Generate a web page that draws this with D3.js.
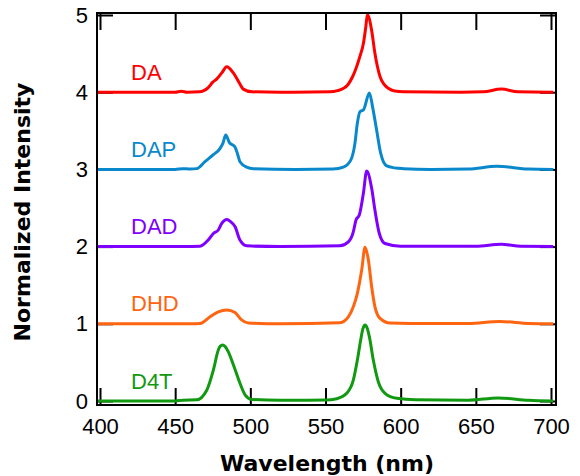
<html>
<head>
  <style>
    body { margin: 0; background: #fff; }
    text { font-family: "Liberation Sans", Arial, sans-serif; }
  </style>
</head>
<body>
<div id="mydiv"></div>
<script src="https://d3js.org/d3.v7.min.js"></script>
<script>
// spectra: [wavelength nm, normalized intensity]
var names = ["DA", "DAP", "DAD", "DHD", "D4T"];
var offsets = [4, 3, 2, 1, 0];
var colors = ["#ff0000", "#0a88cc", "#7f00ff", "#ff6410", "#129912"];

var daSpec = [[398,0],[450,0],[454,0.012],[458,0],[466,0.005],[469,0.02],[472,0.06],[475,0.13],[477.6,0.17],
  [481,0.25],[484.3,0.33],[488.7,0.25],[492.7,0.12],[495.3,0.04],[501,0.005],[520,0],[553,0.005],[558,0.02],
  [562,0.05],[565,0.1],[568,0.2],[570.7,0.33],[573,0.47],[575.2,0.63],[576.5,0.8],[578,1.0],[580.7,0.8],
  [582.9,0.5],[586.3,0.2],[589,0.1],[591.8,0.05],[596,0.015],[602,0.005],[640,0],[655,0.005],[667,0.04],
  [678,0.005],[701.5,0]];
var dapSpec = [[398,0],[450,0],[455,0.01],[460,0.005],[464.3,0.01],[469.8,0.1],[475.4,0.19],[479.8,0.27],
  [481.8,0.34],[483.6,0.445],[486,0.35],[489.8,0.29],[491.5,0.2],[493.1,0.1],[497.6,0.03],[502,0.01],[530,0],
  [555,0.005],[561.9,0.03],[566.8,0.12],[569.6,0.34],[571.2,0.6],[573,0.75],[575.2,0.77],[579.2,0.99],
  [581.3,0.81],[584,0.51],[586.7,0.21],[590.7,0.045],[596,0.02],[602,0.01],[620,0],[645,0.005],[664,0.04],
  [685,0.005],[701.5,0]];
var dadSpec = [[398,0],[455,0],[466.5,0.005],[472,0.085],[475.4,0.17],[478.7,0.215],[481,0.3],[484.3,0.35],
  [487,0.32],[489.8,0.26],[493.1,0.085],[497.6,0.01],[520,0],[559.6,0.01],[565.2,0.06],[568.5,0.19],
  [570.3,0.345],[572.5,0.41],[575.2,0.69],[577.4,0.98],[580.7,0.755],[582.9,0.47],[585.8,0.17],[589.6,0.04],
  [600,0.005],[650,0.005],[667,0.03],[680,0.003],[701.5,0]];
var dhdSpec = [[398,0],[460,0],[466.5,0.003],[473.2,0.09],[478.7,0.155],[484.3,0.18],[489.8,0.145],
  [494.2,0.05],[498.7,0.01],[520,0],[559.6,0.015],[565.2,0.09],[568.5,0.22],[571.2,0.395],[574.1,0.7],
  [576.3,0.99],[578.5,0.83],[580.7,0.48],[582.9,0.22],[586.3,0.07],[592.9,0.01],[620,0.003],[645,0.005],
  [666,0.03],[685,0.005],[701.5,0]];
var d4tSpec = [[398,0],[450,0],[455,0.01],[464.3,0.015],[471,0.14],[475.4,0.4],[478.7,0.66],[480,0.71],
  [481.6,0.725],[483,0.71],[485.3,0.64],[488.7,0.47],[493.1,0.23],[496.5,0.08],[500.9,0.02],[520,0.01],
  [550,0.012],[557.5,0.03],[564.1,0.1],[568.5,0.27],[571.2,0.53],[573.4,0.79],[574.8,0.93],[576.3,0.985],
  [577.8,0.94],[579.2,0.83],[581.8,0.53],[585.1,0.25],[589.6,0.1],[597.4,0.035],[610,0.015],[645,0.01],
  [664.8,0.04],[685,0.01],[701.5,0.0]];
var spectra = [daSpec, dapSpec, dadSpec, dhdSpec, d4tSpec];

var xTicks = [400, 450, 500, 550, 600, 650, 700];
var yTicks = [0, 1, 2, 3, 4, 5];

let width = 580, height = 476;
let svg = d3.select("#mydiv")
  .append("svg")
    .attr("width", width)
    .attr("height", height);

// frame box
let boxL = 97, boxR = 556, boxT = 13, boxB = 405;

let x = d3.scaleLinear().domain([400, 700]).range([100, 551]);
let y = d3.scaleLinear().domain([0, 5]).range([401, 15]);

// axes first, ticks inside on all four sides (curves sit on top of them)
let xBottom = d3.axisBottom(x).tickValues(xTicks).tickSizeInner(-17).tickSizeOuter(0).tickPadding(13);
let xTop = d3.axisTop(x).tickValues(xTicks).tickSizeInner(-17).tickSizeOuter(0).tickFormat("");
let yLeft = d3.axisLeft(y).tickValues(yTicks).tickSizeInner(-16).tickSizeOuter(0).tickPadding(9)
  .tickFormat(d3.format("d"));
let yRight = d3.axisRight(y).tickValues(yTicks).tickSizeInner(-16).tickSizeOuter(0).tickFormat("");

let gb = svg.append("g").attr("transform", "translate(0," + boxB + ")").call(xBottom);
let gt = svg.append("g").attr("transform", "translate(0," + boxT + ")").call(xTop);
let gl = svg.append("g").attr("transform", "translate(" + boxL + ",0)").call(yLeft);
let gr = svg.append("g").attr("transform", "translate(" + boxR + ",0)").call(yRight);

[gb, gt, gl, gr].forEach(g => {
  g.select(".domain").remove();
  g.selectAll(".tick line").attr("stroke", "#000").attr("stroke-width", 2);
  g.selectAll(".tick text")
    .attr("fill", "#000")
    .style("font-size", "22px")
    .style("font-family", "'Liberation Sans', Arial, sans-serif");
});

let line = d3.line()
  .x(d => x(d[0]))
  .curve(d3.curveMonotoneX);

// curves
spectra.forEach((spec, i) => {
  svg.append("path")
    .datum(spec)
    .attr("fill", "none")
    .attr("stroke", colors[i])
    .attr("stroke-width", 3)
    .attr("stroke-linejoin", "round")
    .attr("d", line.y(d => y(d[1] + offsets[i])));

  svg.append("text")
    .attr("x", 131)
    .attr("y", y(offsets[i]) - 12.5)
    .attr("fill", colors[i])
    .style("font-size", "22px")
    .text(names[i]);
});

svg.append("rect")
  .attr("x", boxL)
  .attr("y", boxT)
  .attr("width", boxR - boxL)
  .attr("height", boxB - boxT)
  .attr("fill", "none")
  .attr("stroke", "#000")
  .attr("stroke-width", 2);

// titles
svg.append("text")
  .attr("x", 327)
  .attr("y", 471)
  .attr("text-anchor", "middle")
  .style("font-family", "'DejaVu Sans', sans-serif")
  .style("font-size", "22px")
  .style("font-weight", "bold")
  .text("Wavelength (nm)");

svg.append("text")
  .attr("transform", "translate(30,212) rotate(-90)")
  .attr("text-anchor", "middle")
  .style("font-family", "'DejaVu Sans', sans-serif")
  .style("font-size", "22px")
  .style("font-weight", "bold")
  .text("Normalized Intensity");
</script>
</body>
</html>
